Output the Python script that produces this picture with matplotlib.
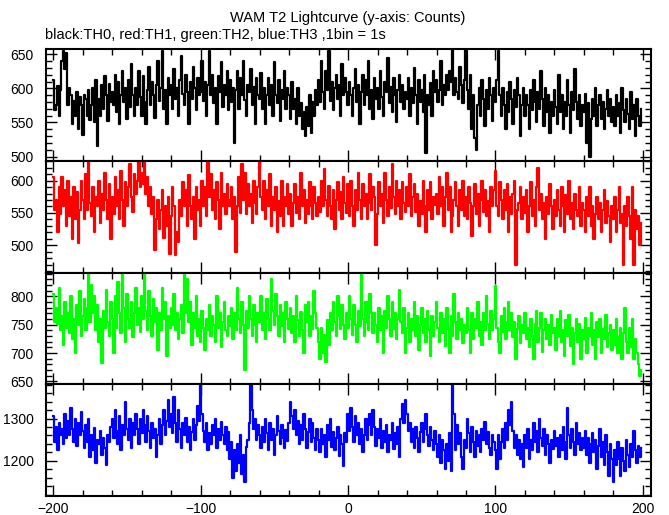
import numpy as np
import matplotlib
matplotlib.use("Agg")
import matplotlib.pyplot as plt
from matplotlib.ticker import MultipleLocator

plt.rcParams["font.family"] = ["Liberation Sans", "DejaVu Sans"]

# time bins (1 s each)
t = np.arange(-200, 200)

# TH0 (black)
th0 = [612, 568, 575, 604, 560, 598, 640, 655, 628, 652, 575, 600, 590, 548, 582, 560, 595, 540, 588, 575,
       532, 590, 585, 560, 598, 553, 575, 600, 550, 612, 515, 585, 560, 605, 570, 618, 590, 552, 606, 580,
       595, 575, 620, 565, 610, 548, 590, 625, 580, 600, 555, 612, 572, 635, 590, 560, 600, 575, 625, 588,
       560, 618, 580, 548, 598, 632, 575, 610, 590, 556, 605, 640, 582, 600, 655, 570, 598, 548, 615, 590,
       605, 570, 628, 585, 600, 560, 612, 648, 592, 575, 620, 595, 548, 610, 585, 632, 600, 568, 615, 590,
       595, 640, 582, 610, 560, 605, 655, 590, 620, 578, 600, 548, 618, 595, 638, 572, 605, 590, 625, 568,
       612, 580, 600, 520, 598, 625, 570, 615, 590, 640, 583, 560, 605, 595, 628, 575, 602, 548, 615, 590,
       585, 622, 570, 600, 548, 590, 615, 575, 605, 560, 638, 590, 578, 612, 552, 598, 585, 625, 570, 600,
       590, 555, 610, 570, 585, 548, 600, 560, 578, 540, 565, 530, 572, 545, 590, 535, 580, 560, 598, 575,
       612, 580, 640, 595, 570, 625, 598, 655, 582, 610, 568, 600, 620, 585, 605, 560, 635, 590, 615, 595,
       575, 610, 590, 560, 600, 628, 580, 605, 548, 595, 620, 575, 612, 590, 640, 570, 598, 555, 615, 585,
       600, 570, 625, 588, 560, 610, 595, 645, 578, 602, 565, 615, 590, 550, 598, 620, 580, 605, 570, 595,
       585, 615, 560, 600, 578, 630, 590, 548, 612, 580, 598, 565, 620, 505, 590, 575, 608, 560, 625, 595,
       612, 580, 598, 640, 575, 605, 590, 620, 598, 625, 610, 660, 590, 615, 595, 585, 632, 605, 578, 612,
       660, 598, 570, 620, 540, 590, 528, 510, 575, 600, 560, 612, 585, 545, 598, 570, 615, 590, 552, 600,
       580, 612, 655, 590, 560, 600, 575, 540, 595, 565, 610, 585, 548, 598, 572, 615, 590, 530, 575, 600,
       560, 590, 575, 540, 598, 568, 612, 580, 550, 595, 570, 625, 585, 545, 600, 565, 590, 535, 580, 560,
       598, 572, 548, 620, 565, 590, 540, 580, 560, 612, 575, 535, 595, 568, 628, 580, 555, 590, 545, 575,
       565, 592, 520, 578, 500, 555, 585, 560, 600, 545, 575, 590, 555, 580, 540, 570, 598, 560, 585, 550,
       572, 545, 590, 560, 578, 535, 600, 568, 550, 585, 562, 540, 595, 555, 575, 530, 585, 560, 545, 570]

# TH1 (red)
th1 = [605, 555, 570, 520, 590, 548, 605, 560, 585, 530, 600, 545, 575, 510, 590, 540, 582, 503, 555, 600,
       570, 540, 610, 555, 628, 565, 545, 590, 520, 575, 560, 600, 535, 580, 555, 612, 570, 540, 595, 510,
       575, 548, 605, 560, 585, 540, 615, 570, 530, 598, 560, 590, 625, 575, 552, 610, 580, 600, 628, 590,
       612, 595, 628, 580, 605, 560, 590, 548, 575, 493, 540, 570, 525, 555, 585, 512, 560, 530, 575, 487,
       545, 590, 560, 485, 520, 505, 570, 545, 598, 560, 585, 530, 608, 560, 540, 575, 510, 590, 555, 570,
       530, 600, 560, 590, 545, 628, 575, 610, 555, 585, 540, 598, 570, 525, 612, 560, 580, 548, 595, 570,
       560, 590, 540, 575, 490, 560, 605, 550, 625, 570, 612, 548, 595, 560, 580, 535, 600, 565, 548, 590,
       628, 575, 555, 600, 540, 585, 560, 610, 530, 575, 555, 590, 520, 568, 545, 600, 530, 575, 560, 595,
       548, 580, 530, 565, 595, 550, 575, 540, 612, 560, 585, 535, 570, 548, 598, 560, 540, 590, 565, 545,
       575, 552, 600, 560, 618, 570, 545, 592, 560, 540, 585, 525, 570, 598, 555, 582, 540, 605, 565, 550,
       595, 545, 600, 560, 530, 585, 555, 612, 570, 540, 595, 560, 580, 540, 565, 610, 555, 590, 575, 500,
       548, 598, 560, 580, 535, 612, 570, 545, 590, 558, 625, 575, 548, 600, 560, 585, 540, 598, 565, 552,
       590, 560, 610, 545, 575, 595, 552, 580, 530, 568, 548, 600, 560, 520, 585, 555, 598, 540, 575, 562,
       580, 548, 605, 560, 590, 530, 575, 612, 555, 590, 520, 545, 570, 598, 560, 530, 585, 555, 600, 545,
       575, 540, 590, 565, 515, 560, 595, 548, 580, 530, 570, 600, 552, 585, 545, 568, 520, 590, 560, 585,
       615, 560, 545, 598, 570, 540, 585, 555, 595, 520, 575, 548, 580, 600, 470, 555, 565, 590, 540, 575,
       550, 585, 520, 560, 598, 545, 570, 530, 590, 620, 555, 580, 540, 565, 510, 575, 548, 595, 560, 525,
       570, 545, 585, 555, 530, 590, 560, 520, 578, 548, 600, 540, 565, 525, 580, 555, 545, 590, 530, 565,
       555, 520, 575, 545, 590, 530, 560, 510, 548, 575, 540, 565, 520, 555, 585, 535, 568, 545, 505, 560,
       540, 575, 520, 555, 590, 535, 548, 470, 560, 530, 575, 545, 510, 590, 470, 555, 525, 545, 500, 535]

# TH2 (green)
th2 = [805, 755, 780, 752, 815, 740, 765, 715, 790, 745, 770, 735, 800, 725, 760, 700, 785, 750, 810, 730,
       765, 795, 740, 780, 842, 755, 820, 770, 800, 740, 785, 720, 760, 682, 775, 745, 812, 755, 730, 790,
       760, 700, 800, 745, 825, 770, 735, 842, 780, 720, 805, 760, 745, 790, 728, 770, 815, 750, 780, 738,
       800, 760, 842, 775, 740, 810, 765, 730, 795, 755, 780, 705, 770, 740, 815, 760, 790, 695, 765, 745,
       780, 750, 805, 740, 770, 725, 760, 785, 735, 842, 770, 830, 755, 790, 715, 770, 745, 800, 730, 760,
       720, 775, 745, 705, 760, 740, 785, 730, 765, 750, 720, 800, 745, 770, 710, 755, 790, 740, 730, 765,
       748, 780, 725, 770, 740, 815, 760, 735, 790, 750, 670, 775, 745, 800, 760, 730, 785, 750, 720, 770,
       755, 800, 740, 770, 725, 795, 760, 740, 830, 775, 750, 805, 765, 730, 785, 748, 770, 720, 790, 760,
       742, 780, 735, 765, 720, 800, 758, 730, 772, 740, 700, 785, 755, 790, 730, 765, 742, 810, 770, 745,
       720, 690, 745, 700, 732, 685, 758, 715, 770, 740, 790, 755, 730, 800, 765, 742, 785, 750, 725, 770,
       745, 800, 760, 732, 785, 750, 720, 775, 748, 842, 760, 730, 790, 755, 740, 805, 770, 735, 770, 750,
       720, 780, 740, 765, 700, 775, 745, 800, 760, 730, 790, 742, 770, 725, 760, 812, 755, 735, 780, 700,
       745, 770, 720, 760, 740, 790, 730, 765, 705, 750, 780, 735, 760, 720, 775, 740, 695, 765, 730, 755,
       790, 745, 720, 770, 735, 760, 712, 780, 742, 700, 765, 730, 805, 755, 725, 770, 740, 760, 718, 750,
       735, 780, 740, 700, 770, 725, 760, 745, 790, 730, 755, 715, 770, 740, 800, 752, 725, 775, 740, 760,
       818, 745, 720, 700, 765, 738, 780, 725, 755, 790, 740, 770, 728, 755, 690, 742, 765, 718, 750, 735,
       770, 725, 745, 710, 760, 730, 690, 752, 775, 720, 745, 770, 702, 740, 760, 725, 750, 715, 768, 735,
       745, 705, 760, 730, 775, 720, 740, 695, 758, 730, 768, 712, 745, 680, 735, 760, 720, 752, 690, 740,
       725, 762, 700, 745, 730, 770, 715, 740, 690, 755, 728, 760, 700, 742, 725, 768, 710, 735, 750, 705,
       740, 715, 760, 700, 728, 745, 690, 735, 780, 720, 700, 745, 710, 760, 690, 725, 700, 680, 660, 670]

# TH3 (blue)
th3 = [1305, 1245, 1280, 1225, 1290, 1260, 1275, 1240, 1310, 1255, 1295, 1262, 1325, 1275, 1245, 1300, 1235, 1290, 1260, 1315,
       1270, 1230, 1285, 1245, 1300, 1210, 1260, 1225, 1278, 1195, 1250, 1240, 1270, 1215, 1255, 1230, 1190, 1262, 1245, 1280,
       1300, 1255, 1320, 1270, 1240, 1305, 1225, 1285, 1260, 1340, 1275, 1250, 1300, 1230, 1290, 1262, 1310, 1275, 1240, 1298,
       1265, 1320, 1285, 1245, 1305, 1270, 1230, 1290, 1255, 1275, 1210, 1262, 1300, 1240, 1285, 1320, 1260, 1295, 1345, 1280,
       1310, 1265, 1350, 1290, 1245, 1320, 1275, 1230, 1290, 1260, 1302, 1245, 1280, 1225, 1268, 1300, 1250, 1285, 1330, 1295,
       1381, 1310, 1270, 1245, 1290, 1225, 1265, 1240, 1285, 1260, 1300, 1230, 1275, 1250, 1292, 1262, 1240, 1280, 1225, 1268,
       1205, 1245, 1160, 1225, 1175, 1240, 1195, 1260, 1170, 1215, 1150, 1232, 1250, 1290, 1381, 1320, 1275, 1300, 1250, 1285,
       1262, 1230, 1280, 1245, 1300, 1265, 1225, 1290, 1250, 1275, 1215, 1260, 1305, 1270, 1240, 1285, 1255, 1230, 1272, 1248,
       1290, 1340, 1305, 1275, 1320, 1260, 1295, 1240, 1285, 1250, 1310, 1275, 1230, 1268, 1300, 1245, 1290, 1255, 1225, 1275,
       1250, 1220, 1275, 1240, 1262, 1210, 1285, 1250, 1300, 1232, 1268, 1225, 1255, 1280, 1212, 1260, 1240, 1188, 1265, 1245,
       1310, 1270, 1325, 1280, 1245, 1305, 1260, 1290, 1240, 1275, 1222, 1260, 1300, 1250, 1285, 1310, 1262, 1320, 1280, 1235,
       1275, 1255, 1298, 1230, 1270, 1245, 1285, 1220, 1262, 1250, 1290, 1228, 1265, 1240, 1280, 1210, 1300, 1335, 1290, 1345,
       1310, 1270, 1290, 1245, 1275, 1230, 1280, 1255, 1220, 1268, 1290, 1245, 1275, 1310, 1262, 1235, 1280, 1250, 1225, 1270,
       1240, 1210, 1260, 1195, 1250, 1225, 1180, 1240, 1200, 1265, 1175, 1381, 1310, 1225, 1285, 1240, 1265, 1210, 1180, 1250,
       1230, 1300, 1265, 1220, 1280, 1245, 1210, 1270, 1235, 1260, 1220, 1275, 1250, 1292, 1240, 1268, 1230, 1215, 1262, 1245,
       1225, 1180, 1260, 1205, 1245, 1275, 1230, 1290, 1250, 1320, 1285, 1340, 1270, 1230, 1262, 1215, 1250, 1205, 1240, 1185,
       1260, 1230, 1275, 1205, 1250, 1225, 1290, 1245, 1270, 1220, 1300, 1255, 1235, 1275, 1215, 1262, 1240, 1195, 1250, 1228,
       1270, 1235, 1255, 1210, 1262, 1225, 1280, 1245, 1205, 1325, 1260, 1230, 1275, 1245, 1215, 1290, 1240, 1265, 1225, 1255,
       1230, 1270, 1215, 1255, 1195, 1240, 1265, 1220, 1250, 1180, 1235, 1275, 1210, 1245, 1190, 1260, 1220, 1165, 1240, 1205,
       1150, 1225, 1190, 1245, 1205, 1165, 1230, 1200, 1175, 1250, 1215, 1185, 1240, 1210, 1270, 1225, 1195, 1235, 1210, 1230]

series = [th0, th1, th2, th3]
colors = ["black", "red", "#00ff00", "blue"]
ylims = [(493.5, 657), (458, 630), (645, 842), (1117, 1381)]
yticks = [[500, 550, 600, 650], [500, 550, 600], [650, 700, 750, 800], [1200, 1300]]
yminor = [10, 10, 10, 20]

fig = plt.figure(figsize=(6.69, 5.15), dpi=100)
gs = fig.add_gridspec(4, 1, left=0.0688, right=0.973, top=0.904, bottom=0.037, hspace=0)

for i, (y, c) in enumerate(zip(series, colors)):
    ax = fig.add_subplot(gs[i])
    ax.step(t, y, where="mid", color=c, lw=1.6)
    ax.set_xlim(-205, 205.5)
    ax.set_ylim(*ylims[i])
    ax.set_yticks(yticks[i])
    ax.yaxis.set_minor_locator(MultipleLocator(yminor[i]))
    ax.xaxis.set_major_locator(MultipleLocator(100))
    ax.xaxis.set_minor_locator(MultipleLocator(20))
    ax.tick_params(which="both", direction="in", top=True, right=True, width=1, labelsize=10)
    ax.tick_params(which="major", length=8, pad=9)
    ax.tick_params(axis="x", which="major", pad=4)
    ax.tick_params(which="minor", length=4)
    for s in ax.spines.values():
        s.set_linewidth(1.5)
    if i < 3:
        ax.tick_params(labelbottom=False)

fig.text(0.52, 0.965, "WAM T2 Lightcurve (y-axis: Counts)", ha="center", va="center", fontsize=10.5)
fig.text(0.067, 0.932, "black:TH0, red:TH1, green:TH2, blue:TH3 ,1bin = 1s", ha="left", va="center", fontsize=10.5)

fig.savefig("out.png", dpi=100)
